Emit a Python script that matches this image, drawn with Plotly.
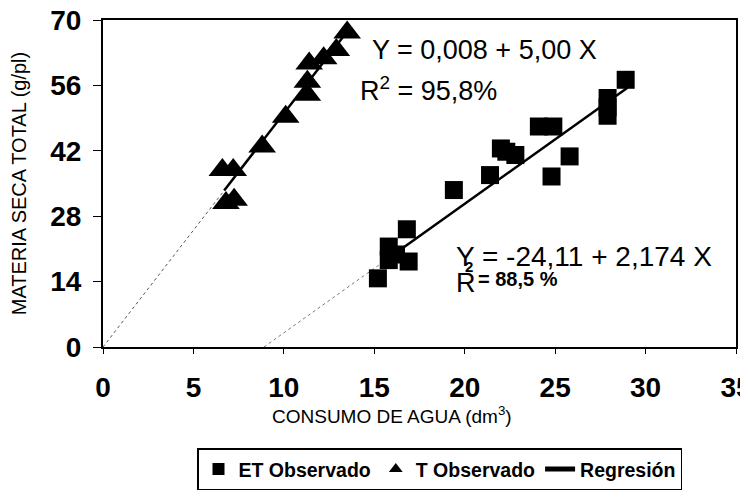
import plotly.graph_objects as go

# ET Observado (squares)
et_x = [15.2, 15.8, 15.8, 16.2, 16.9, 16.8, 19.4, 21.4, 22.0, 22.3, 22.8, 24.1, 24.9, 24.8, 25.8, 27.9, 27.9, 27.9, 28.9]
et_y = [14.7, 18.6, 21.5, 19.8, 18.3, 25.2, 33.6, 36.8, 42.5, 41.8, 41.1, 47.2, 47.2, 36.5, 40.8, 53.3, 51.3, 49.5, 57.2]

# T Observado (triangles)
t_x = [6.8, 7.25, 6.6, 7.2, 8.8, 10.1, 11.3, 11.3, 11.4, 12.2, 12.9, 13.5]
t_y = [30.8, 31.5, 37.9, 37.9, 42.9, 49.3, 54.0, 56.8, 60.7, 61.8, 63.6, 67.3]

# Regression lines (extrapolated dotted part + solid fitted part)
reg_t_dot_x = [0, 6.7]
reg_t_dot_y = [0, 33.5]
reg_t_x = [6.7, 13.6]
reg_t_y = [33.5, 68.0]
reg_et_dot_x = [8.9, 15.6]
reg_et_dot_y = [0, 18.5]
reg_et_x = [15.6, 29.0]
reg_et_y = [18.5, 55.5]

x_ticks = [0, 5, 10, 15, 20, 25, 30, 35]
y_ticks = [0, 14, 28, 42, 56, 70]

FONT = "Arial, Liberation Sans, sans-serif"

fig = go.Figure()
fig.add_trace(go.Scatter(x=reg_t_dot_x, y=reg_t_dot_y, mode="lines",
                         line=dict(color="#555555", width=1, dash="dot"), showlegend=False))
fig.add_trace(go.Scatter(x=reg_et_dot_x, y=reg_et_dot_y, mode="lines",
                         line=dict(color="#777777", width=1, dash="dot"), showlegend=False))
fig.add_trace(go.Scatter(x=et_x, y=et_y, mode="markers", name="ET Observado",
                         marker=dict(symbol="square", size=18, color="black")))
fig.add_trace(go.Scatter(x=t_x, y=t_y, mode="markers", name="T Observado",
                         marker=dict(symbol="triangle-up", size=24, color="black")))
fig.add_trace(go.Scatter(x=reg_t_x, y=reg_t_y, mode="lines", name="Regresión",
                         line=dict(color="black", width=2.5)))
fig.add_trace(go.Scatter(x=reg_et_x, y=reg_et_y, mode="lines", showlegend=False,
                         line=dict(color="black", width=2.5)))

annos = [
    dict(x=14.76, y=63.6, text="Y = 0,008 + 5,00 X", size=27),
    dict(x=14.1, y=55.2, text="R<sup>2</sup> = 95,8%", size=27),
    dict(x=19.4, y=19.3, text="Y = -24,11 + 2,174 X", size=28),
    dict(x=19.4, y=13.7, text="R", size=27),
    dict(x=20.6, y=14.5, text="<b>= 88,5 %</b>", size=20),
    dict(x=19.9, y=17.2, text="<b>2</b>", size=15),
]
for a in annos:
    fig.add_annotation(x=a["x"], y=a["y"], xref="x", yref="y", text=a["text"],
                       showarrow=False, xanchor="left", yanchor="middle",
                       font=dict(family=FONT, size=a["size"], color="black"))

fig.add_annotation(x=0.457, y=-0.208, xref="paper", yref="paper",
                   text="CONSUMO DE AGUA (dm<sup>3</sup>)", showarrow=False,
                   xanchor="center", yanchor="middle",
                   font=dict(family=FONT, size=19, color="black"))

fig.update_layout(
    width=748, height=500,
    margin=dict(l=95, r=20, t=12, b=161),
    paper_bgcolor="white", plot_bgcolor="white",
    font=dict(family=FONT, color="black"),
    legend=dict(orientation="h", x=0.1485, y=-0.31, xanchor="left", yanchor="top",
                bordercolor="black", borderwidth=1.5,
                font=dict(family=FONT, size=19.5, color="black", weight="bold"),
                itemsizing="constant", tracegroupgap=0),
)
fig.update_xaxes(range=[0, 35], tickvals=x_ticks, ticktext=[str(v) for v in x_ticks],
                 showline=True, linecolor="black", linewidth=2, mirror=True,
                 ticks="outside", ticklen=5, tickcolor="black", showgrid=False, zeroline=False,
                 automargin=False, ticklabeloverflow="allow", ticklabelstandoff=9,
                 tickfont=dict(family=FONT, size=28, color="black", weight="bold"))
fig.update_yaxes(range=[0, 70], tickvals=y_ticks, ticktext=[str(v) for v in y_ticks],
                 showline=True, linecolor="black", linewidth=2, mirror=True,
                 ticks="outside", ticklen=8, tickcolor="black", showgrid=False, zeroline=False,
                 automargin=False, ticklabeloverflow="allow", ticklabelstandoff=6,
                 tickfont=dict(family=FONT, size=28, color="black", weight="bold"),
                 title=dict(text="MATERIA SECA TOTAL (g/pl)", standoff=20,
                            font=dict(family=FONT, size=20, color="black")))

fig.write_html("out.html")
